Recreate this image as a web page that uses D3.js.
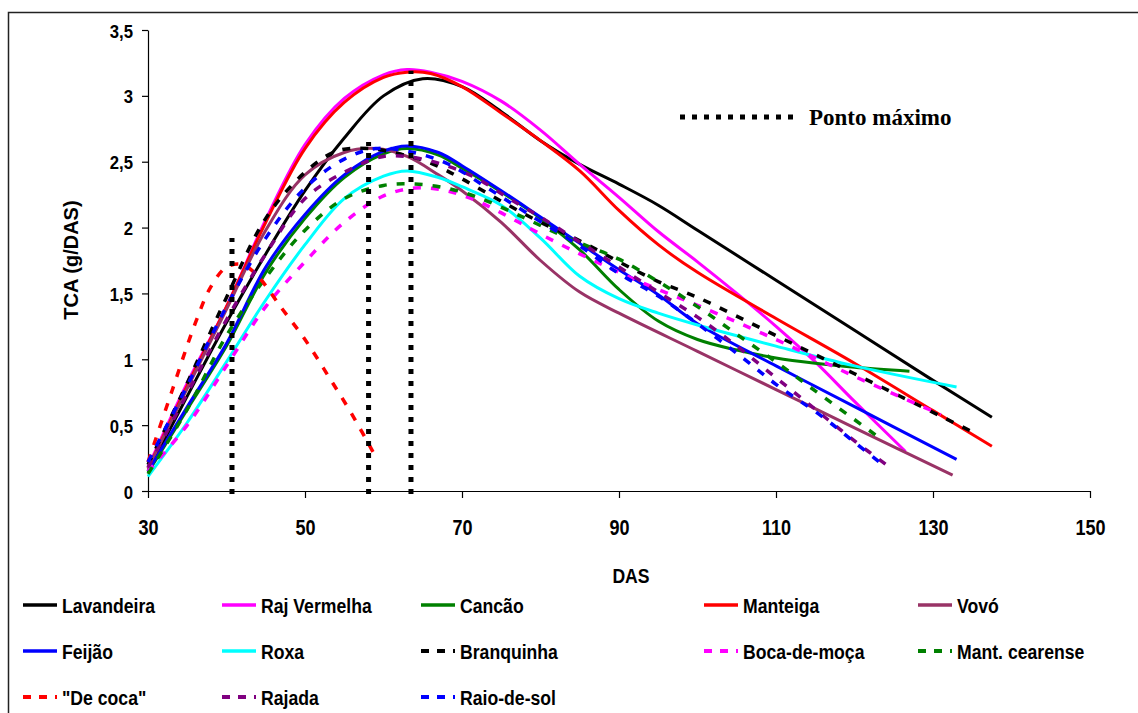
<!DOCTYPE html>
<html><head><meta charset="utf-8">
<script src="https://cdn.jsdelivr.net/npm/d3@7"></script>
<style>
html,body{margin:0;padding:0;background:#fff;}
svg{display:block;}
text{font-family:"Liberation Sans",Arial,sans-serif;font-weight:bold;fill:#000;}
</style></head>
<body>
<svg id="chart" width="1138" height="713"></svg>
<script>
// ---- data (DAS, TCA) ----
const lavandeira = [[30,0.15],[35,0.72],[40,1.28],[45,1.8],[50,2.28],[55,2.68],[60,3.0],[65,3.13],[70,3.07],[75,2.88],[80,2.66],[85,2.48],[90,2.33],[95,2.17],[100,1.98],[110,1.6],[120,1.22],[130,0.84],[137.5,0.56]];
const rajVermelha = [[30,0.18],[35,0.82],[40,1.4],[45,2.06],[50,2.63],[55,2.98],[60,3.16],[63,3.2],[66,3.18],[70,3.11],[75,2.96],[80,2.74],[85,2.48],[90,2.23],[95,1.97],[100,1.74],[105,1.5],[110,1.25],[115,0.98],[120,0.68],[126.5,0.3]];
const cancao = [[30,0.14],[35,0.62],[40,1.1],[45,1.66],[50,2.07],[55,2.38],[60,2.56],[63,2.6],[67,2.55],[70,2.45],[75,2.27],[80,2.07],[85,1.83],[90,1.53],[95,1.29],[100,1.15],[105,1.07],[110,1.01],[115,0.97],[120,0.94],[127,0.91]];
const manteiga = [[30,0.17],[35,0.8],[40,1.4],[45,2.04],[50,2.6],[55,2.95],[60,3.14],[63,3.18],[66,3.17],[70,3.07],[75,2.87],[80,2.66],[85,2.43],[90,2.13],[95,1.87],[100,1.66],[110,1.31],[120,0.97],[130,0.61],[137.5,0.34]];
const vovo = [[30,0.17],[35,0.78],[40,1.38],[45,1.98],[50,2.4],[55,2.57],[59,2.6],[63,2.54],[67,2.4],[70,2.28],[75,2.04],[80,1.75],[85,1.51],[90,1.35],[100,1.06],[110,0.77],[120,0.48],[132.5,0.12]];
const feijao = [[30,0.15],[35,0.64],[40,1.12],[45,1.7],[50,2.1],[55,2.4],[60,2.58],[63,2.62],[67,2.57],[70,2.47],[75,2.28],[80,2.08],[85,1.88],[90,1.68],[95,1.49],[100,1.27],[110,0.95],[120,0.64],[133,0.24]];
const roxa = [[30,0.11],[35,0.52],[40,0.98],[45,1.45],[50,1.87],[55,2.22],[60,2.39],[63,2.43],[67,2.38],[70,2.31],[75,2.17],[80,1.92],[85,1.63],[90,1.46],[95,1.35],[100,1.26],[110,1.1],[120,0.95],[133,0.79]];
const branquinha = [[30,0.2],[35,0.82],[40,1.47],[45,2.07],[50,2.42],[54,2.58],[58,2.6],[62,2.56],[66,2.49],[70,2.37],[75,2.2],[80,2.04],[85,1.9],[90,1.74],[95,1.59],[100,1.47],[110,1.18],[120,0.89],[135,0.45]];
const bocaDeMoca = [[30,0.15],[35,0.5],[40,0.95],[45,1.4],[50,1.74],[55,2.04],[60,2.24],[64,2.3],[68,2.28],[72,2.2],[76,2.08],[80,1.95],[85,1.8],[90,1.66],[95,1.53],[100,1.41],[110,1.15],[120,0.87],[131,0.58]];
const mantCearense = [[30,0.13],[35,0.62],[40,1.18],[45,1.62],[50,1.98],[55,2.22],[60,2.32],[64,2.33],[68,2.3],[72,2.23],[77,2.1],[82,1.96],[86,1.86],[90,1.76],[95,1.59],[100,1.4],[105,1.19],[110,0.98],[115,0.76],[123.5,0.39]];
const deCoca = [[30,0.22],[33,0.75],[36,1.27],[38,1.55],[40,1.7],[42,1.72],[44,1.63],[47,1.39],[50,1.15],[53,0.87],[56,0.58],[59,0.26]];
const rajada = [[30,0.18],[35,0.74],[40,1.3],[45,1.8],[50,2.22],[55,2.42],[60,2.54],[64,2.53],[68,2.47],[72,2.37],[76,2.22],[80,2.08],[85,1.89],[90,1.7],[95,1.51],[100,1.32],[105,1.1],[110,0.86],[115,0.62],[120,0.38],[124.5,0.18]];
const raioDeSol = [[30,0.22],[35,0.8],[40,1.4],[45,1.92],[50,2.3],[55,2.52],[59,2.6],[63,2.58],[68,2.49],[73,2.31],[78,2.12],[85,1.86],[90,1.65],[95,1.48],[100,1.27],[106,1.0],[110,0.81],[116,0.56],[120,0.37],[124,0.18]];

const seriesNames = ["Lavandeira","Raj Vermelha","Cancão","Manteiga","Vovó","Feijão","Roxa","Branquinha","Boca-de-moça","Mant. cearense","\"De coca\"","Rajada","Raio-de-sol"];
const seriesData = [lavandeira,rajVermelha,cancao,manteiga,vovo,feijao,roxa,branquinha,bocaDeMoca,mantCearense,deCoca,rajada,raioDeSol];
const seriesColors = ["#000000","#FF00FF","#008000","#FF0000","#993366","#0000FF","#00FFFF","#000000","#FF00FF","#008000","#FF0000","#800080","#0000FF"];
const seriesDashed = [false,false,false,false,false,false,false,true,true,true,true,true,true];

// Ponto máximo markers
const maxDAS = [40.7, 58.1, 63.5];
const maxTCA = [1.92, 2.65, 3.19];

const xTicks = [30,50,70,90,110,130,150];
const yTicks = [0,0.5,1,1.5,2,2.5,3,3.5];
const fmtY = d => String(d).replace(".", ",");

// ---- layout ----
const svg = d3.select("#chart");
const x = d3.scaleLinear().domain([30,150]).range([148,1090]);
const y = d3.scaleLinear().domain([0,3.5]).range([491,30]);

// outer border
svg.append("path").attr("d","M8.5,740 L8.5,12.5 L1150,12.5")
  .attr("fill","none").attr("stroke","#222").attr("stroke-width",1.5);

// axes
const yAxis = svg.append("g").attr("transform","translate(148,0)")
  .call(d3.axisLeft(y).tickValues(yTicks).tickFormat(fmtY).tickSize(6).tickSizeOuter(0));
yAxis.select(".domain").attr("stroke","#000").attr("stroke-width",1.2);
yAxis.selectAll(".tick line").attr("stroke","#000").attr("stroke-width",1.2);
yAxis.selectAll(".tick text").attr("x",0).attr("dy",null).attr("y",7)
  .attr("text-anchor","end").style("font-size","19px")
  .attr("transform","translate(-15,0) scale(0.88,1)");

const xAxis = svg.append("g").attr("transform","translate(0,491)")
  .call(d3.axisBottom(x).tickValues(xTicks).tickFormat(d3.format("d")).tickSize(7).tickSizeOuter(0));
xAxis.select(".domain").attr("stroke","#000").attr("stroke-width",1.2);
xAxis.selectAll(".tick line").attr("stroke","#000").attr("stroke-width",1.2);
xAxis.selectAll(".tick text").attr("y",0).attr("dy",null)
  .attr("text-anchor","middle").style("font-size","22px")
  .attr("transform","translate(0,44) scale(0.82,1)");

// axis titles
svg.append("text").attr("transform","translate(78,260) rotate(-90)")
  .attr("text-anchor","middle").style("font-size","20px").text("TCA (g/DAS)");
svg.append("g").attr("transform","translate(631,583) scale(0.84,1)")
  .append("text").attr("text-anchor","middle").style("font-size","21px").text("DAS");

// series
const line = d3.line().x(d => x(d[0])).y(d => y(d[1])).curve(d3.curveCatmullRom.alpha(0.5));
const gLines = svg.append("g");
seriesData.forEach((data,i) => {
  gLines.append("path").datum(data).attr("d",line)
    .attr("fill","none").attr("stroke",seriesColors[i])
    .attr("stroke-width", seriesDashed[i] ? 3.5 : 3)
    .attr("stroke-dasharray", seriesDashed[i] ? "8,10" : null)
    .attr("stroke-linejoin","round");
});

// vertical dotted lines for maximum points
maxDAS.forEach((d,i) => {
  svg.append("line").attr("x1",x(d)).attr("x2",x(d))
    .attr("y1",y(0)+3).attr("y2",y(maxTCA[i]))
    .attr("stroke","#000").attr("stroke-width",5).attr("stroke-dasharray","5,7");
});

// Ponto máximo legend
svg.append("line").attr("x1",680).attr("x2",794).attr("y1",117).attr("y2",117)
  .attr("stroke","#000").attr("stroke-width",5).attr("stroke-dasharray","5,7");
svg.append("text").attr("x",809).attr("y",125)
  .style("font-family","'Liberation Serif','Times New Roman',serif")
  .style("font-size","23px").style("font-weight","bold").text("Ponto máximo");

// legend
const colX = [23,222,421,704,918];
const rowY = [605,651,697];
seriesNames.forEach((name,i) => {
  const cx = colX[i % 5], cy = rowY[Math.floor(i / 5)];
  svg.append("line").attr("x1",cx).attr("x2",cx+34).attr("y1",cy).attr("y2",cy)
    .attr("stroke",seriesColors[i]).attr("stroke-width", seriesDashed[i] ? 4 : 3.5)
    .attr("stroke-dasharray", seriesDashed[i] ? "8,8" : null);
  svg.append("g").attr("transform",`translate(${cx+39},${cy+8}) scale(0.84,1)`)
    .append("text").style("font-size","21px").text(name);
});
</script>
</body></html>
